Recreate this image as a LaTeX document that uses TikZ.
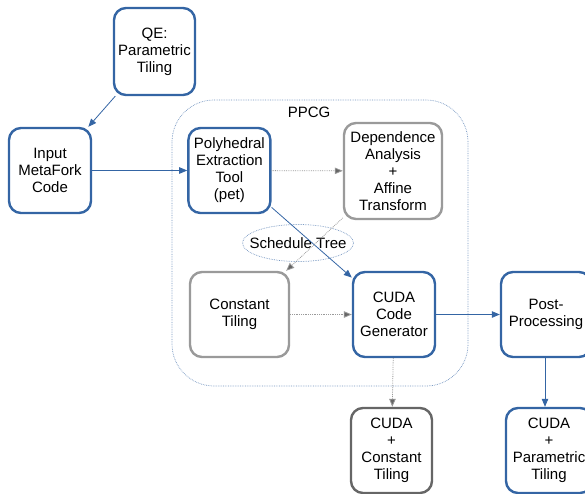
\documentclass[tikz,border=0pt]{standalone}
\usepackage{fontspec}
\setmainfont{Liberation Sans}
\usetikzlibrary{arrows.meta, positioning}
\definecolor{lblue}{HTML}{3465A4}
\definecolor{lgray}{HTML}{9A9A9A}
\definecolor{dgray}{HTML}{666666}

\begin{document}
\begin{tikzpicture}[x=1pt, y=-1pt, >={Triangle[length=8pt,width=6.5pt]},
  every node/.style={font=\fontsize{15}{17}\selectfont, align=center, inner sep=1pt},
  blue box/.style={draw=lblue, line width=2.4pt, rounded corners=12pt, minimum width=82pt, minimum height=85pt},
  gray box/.style={blue box, draw=lgray},
  dark box/.style={blue box, draw=dgray},
  frame line/.style={lblue!70, densely dotted, line width=0.7pt},
  flow/.style={->, draw=lblue, line width=0.8pt},
  weak flow/.style={->, draw=lgray, line width=0.8pt, densely dotted, >={Triangle[length=8pt,width=6.5pt,fill=dgray]}}]
\useasboundingbox (0,0) rectangle (585,493);

% PPCG frame
\draw[frame line, rounded corners=42pt] (172,100) rectangle (468,386);
\node (ppcg) at (309,112) {PPCG};
\node (tree) at (298,243) {Schedule Tree};
\draw[frame line] (tree) ellipse [x radius=55.5, y radius=18.5];

% boxes
\node[blue box, minimum width=81pt, minimum height=87pt] (qe) at (154.5,51.5) {QE:\\Parametric\\Tiling};
\node[blue box] (input) at (50,170.5) {Input\\MetaFork\\Code};
\node[blue box, right=95pt of input] (pet) {Polyhedral\\Extraction\\Tool\\(pet)};
\node[gray box, minimum width=98pt, minimum height=96pt] (dep) at (393,171) {Dependence\\Analysis\\+\\Affine\\Transform};
\node[gray box, minimum width=99pt] (const) at (239.5,314.5) {Constant\\Tiling};
\node[blue box] (gen) at (394,314.5) {CUDA\\Code\\Generator};
\node[blue box, minimum width=90pt] (post) at (546,314.5) {Post-\\Processing};
\node[dark box, minimum width=81pt] (outc) at (391.5,450.5) {CUDA\\+\\Constant\\Tiling};
\node[blue box, minimum width=86pt] (outp) at (549,450.5) {CUDA\\+\\Parametric\\Tiling};

% connectors
\foreach \s/\t in {qe/input, input/pet, pet/gen, gen/post}{
    \draw[flow] (\s) -- (\t);}
\draw[flow] (post.south -| 545,0) -- (outp.north -| 545,0);
\foreach \s/\t in {pet/dep, dep/const, const/gen, gen/outc}{
    \draw[weak flow] (\s) -- (\t);}
\end{tikzpicture}
\end{document}
